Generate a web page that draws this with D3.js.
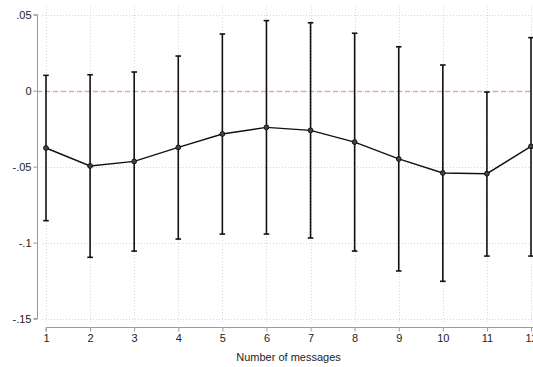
<!DOCTYPE html>
<html>
<head>
<meta charset="utf-8">
<script src="https://cdn.jsdelivr.net/npm/d3@7"></script>
<style>
  html, body { margin: 0; padding: 0; background: #fff; }
  svg { display: block; }
  text { font-family: "Liberation Sans", Arial, sans-serif; fill: #222; }
</style>
</head>
<body>
<svg id="chart" width="533" height="367"></svg>
<script>
// Number of messages
const messages = [1, 2, 3, 4, 5, 6, 7, 8, 9, 10, 11, 12];
// Point estimates
const estimate = [-0.0377, -0.0495, -0.0465, -0.0373, -0.0285, -0.0241, -0.0261, -0.0338, -0.0449, -0.0541, -0.0546, -0.0366];
// 95% confidence interval bounds
const upper = [0.0101, 0.0105, 0.0123, 0.0228, 0.0373, 0.0461, 0.0447, 0.0378, 0.0289, 0.0169, -0.0009, 0.0349];
const lower = [-0.0855, -0.1096, -0.1055, -0.0976, -0.0943, -0.0943, -0.0969, -0.1055, -0.1186, -0.1254, -0.1088, -0.1088];
// Axis tick values and labels
const yTicks = [0.05, 0, -0.05, -0.1, -0.15];
const yTickLabels = [".05", "0", "-.05", "-.1", "-.15"];
const xTitle = "Number of messages";

const data = messages.map((m, i) => ({ m, est: estimate[i], hi: upper[i], lo: lower[i] }));

const svg = d3.select("#chart");

const x = d3.scaleLinear().domain([1, 12]).range([46, 531]);
const y = d3.scaleLinear().domain([-0.15, 0.05]).range([318.7, 14.7]);

const plotLeft = 42, plotRight = 540, plotTop = 6, plotBottom = 324;

// Gridlines
const grid = svg.append("g").attr("stroke", "#d6d6d6").attr("stroke-width", 1).attr("stroke-dasharray", "1,2");
grid.selectAll(".hg").data(yTicks).join("line")
  .attr("x1", plotLeft).attr("x2", plotRight)
  .attr("y1", d => Math.round(y(d)) + 0.5).attr("y2", d => Math.round(y(d)) + 0.5);
grid.selectAll(".vg").data(messages).join("line")
  .attr("x1", d => Math.round(x(d)) + 0.5).attr("x2", d => Math.round(x(d)) + 0.5)
  .attr("y1", plotTop).attr("y2", plotBottom);

// Reference line at zero
svg.append("line")
  .attr("x1", 37).attr("x2", plotRight)
  .attr("y1", Math.round(y(0)) + 0.5).attr("y2", Math.round(y(0)) + 0.5)
  .attr("stroke", "#e2a2c2").attr("stroke-width", 1.3).attr("stroke-dasharray", "5,3");

// Y axis
const yAxis = d3.axisLeft(y).tickValues(yTicks)
  .tickFormat((d, i) => yTickLabels[i]).tickSize(4).tickPadding(2);
const gy = svg.append("g").attr("transform", "translate(37.5,0)").call(yAxis);
gy.select(".domain").attr("stroke", "#9a9a9a").attr("d", `M-4,${y(0.05)}H0V${y(-0.15)}H-4`);
gy.selectAll(".tick line").attr("stroke", "#9a9a9a");
gy.selectAll(".tick text").attr("font-size", 11).attr("fill", "#222")
  .attr("font-family", "Liberation Sans, Arial, sans-serif");

// X axis
const xAxis = d3.axisBottom(x).tickValues(messages).tickFormat(d3.format("d")).tickSize(4).tickPadding(3);
const gx = svg.append("g").attr("transform", "translate(0,327.5)").call(xAxis);
gx.select(".domain").attr("stroke", "#9a9a9a").attr("d", `M${x(1)},4V0H${plotRight}`);
gx.selectAll(".tick line").attr("stroke", "#9a9a9a");
gx.selectAll(".tick text").attr("font-size", 11).attr("fill", "#222")
  .attr("font-family", "Liberation Sans, Arial, sans-serif");

svg.append("text")
  .attr("x", (x(1) + x(12)) / 2).attr("y", 360.5)
  .attr("text-anchor", "middle").attr("font-size", 11)
  .text(xTitle);

// Confidence intervals
const ci = svg.append("g").attr("stroke", "#111").attr("stroke-width", 1.6);
ci.selectAll(".bar").data(data).join("line")
  .attr("x1", d => x(d.m)).attr("x2", d => x(d.m))
  .attr("y1", d => y(d.hi)).attr("y2", d => y(d.lo));
ci.selectAll(".capHi").data(data).join("line")
  .attr("x1", d => x(d.m) - 2.8).attr("x2", d => x(d.m) + 2.8)
  .attr("y1", d => y(d.hi)).attr("y2", d => y(d.hi));
ci.selectAll(".capLo").data(data).join("line")
  .attr("x1", d => x(d.m) - 2.8).attr("x2", d => x(d.m) + 2.8)
  .attr("y1", d => y(d.lo)).attr("y2", d => y(d.lo));

// Estimates
svg.append("path").datum(data)
  .attr("fill", "none").attr("stroke", "#111").attr("stroke-width", 1.4)
  .attr("d", d3.line().x(d => x(d.m)).y(d => y(d.est)));
svg.selectAll(".pt").data(data).join("circle")
  .attr("cx", d => x(d.m)).attr("cy", d => y(d.est)).attr("r", 2.4)
  .attr("fill", "#444").attr("stroke", "#111").attr("stroke-width", 1);
</script>
</body>
</html>
